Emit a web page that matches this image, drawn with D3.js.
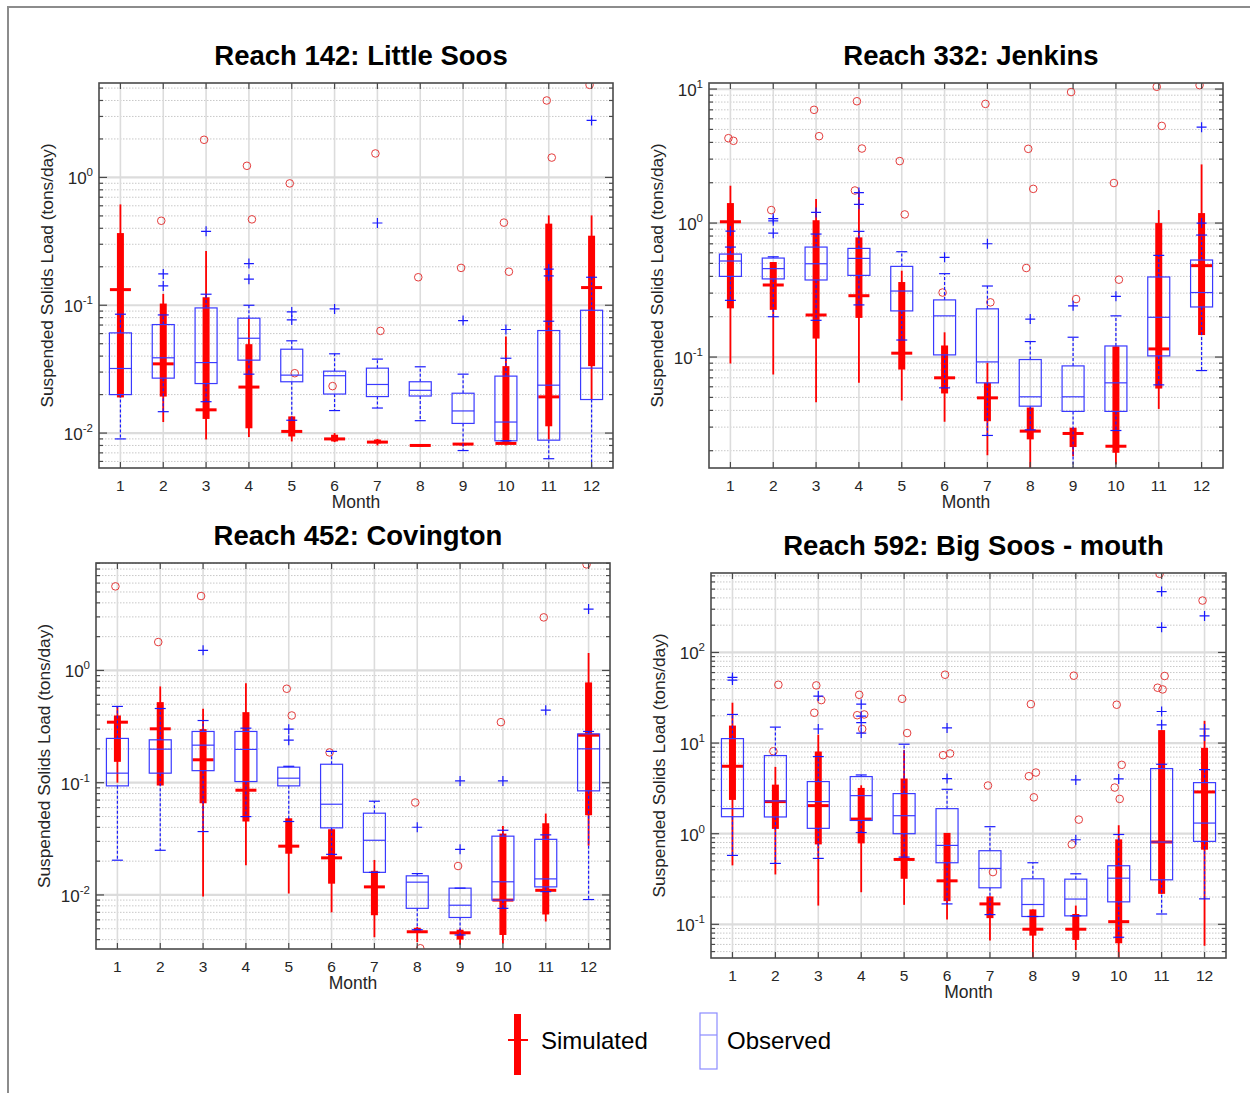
<!DOCTYPE html>
<html>
<head>
<meta charset="utf-8">
<script src="https://cdn.jsdelivr.net/npm/d3@7"></script>
<style>
  body { margin: 0; background: #fff; }
  svg { display: block; }
  text { font-family: "Liberation Sans", Arial, sans-serif; fill: #262626; }
</style>
</head>
<body>
<script>
const months = [1, 2, 3, 4, 5, 6, 7, 8, 9, 10, 11, 12];

// rows: [lower whisker, q1, median, q3, upper whisker], one per month
const obs142 = [
  [0.0090, 0.0200, 0.0320, 0.0608, 0.0851], [0.0147, 0.0269, 0.0388, 0.0706, 0.0840],
  [0.0176, 0.0244, 0.0356, 0.0953, 0.122], [0.0289, 0.0372, 0.0552, 0.0792, 0.100],
  [0.0126, 0.0252, 0.0284, 0.0453, 0.0527], [0.0150, 0.0202, 0.0281, 0.0305, 0.0417],
  [0.0157, 0.0193, 0.0240, 0.0322, 0.0379], [0.0125, 0.0195, 0.0216, 0.0252, 0.033],
  [0.0073, 0.0119, 0.0149, 0.0205, 0.0289], [0.0087, 0.0087, 0.0122, 0.0279, 0.0385],
  [0.0063, 0.0088, 0.0237, 0.0634, 0.075], [0.004, 0.0183, 0.0322, 0.0914, 0.1656]
];
const obsOut142 = [[], [0.1416, 0.1758], [0.379], [0.160, 0.212], [0.0768, 0.0887], [0.0936],
  [0.440], [], [0.0759], [0.0646], [0.1695, 0.192], [2.79]];
const sim142 = [
  [0.019, 0.0190, 0.1325, 0.367, 0.615], [0.0122, 0.0193, 0.0348, 0.1031, 0.1227],
  [0.0089, 0.0129, 0.0152, 0.1155, 0.266], [0.0093, 0.0109, 0.0229, 0.0496, 0.08],
  [0.0086, 0.0094, 0.0103, 0.0135, 0.0135], [0.0085, 0.0086, 0.0090, 0.0097, 0.0100],
  [0.0080, 0.0083, 0.0085, 0.0089, 0.0090], [0.0079, 0.0079, 0.0080, 0.0081, 0.0081],
  [0.0079, 0.0080, 0.0082, 0.0083, 0.0084], [0.0080, 0.0083, 0.0083, 0.0334, 0.0569],
  [0.0089, 0.0113, 0.0192, 0.435, 0.505], [0.0182, 0.0334, 0.1375, 0.350, 0.505]
];
const simOut142 = [[], [0.458], [1.97], [1.233, 0.470], [0.898, 0.0294], [0.0233],
  [1.54, 0.063], [0.1656], [0.196], [0.443, 0.183], [4.0, 1.43], [5.3]];

const obs332 = [
  [0.265, 0.400, 0.521, 0.587, 0.662], [0.200, 0.383, 0.457, 0.548, 0.560],
  [0.188, 0.376, 0.497, 0.662, 0.828], [0.245, 0.407, 0.545, 0.647, 0.867],
  [0.134, 0.221, 0.311, 0.475, 0.611], [0.0589, 0.1038, 0.203, 0.267, 0.419],
  [0.026, 0.0642, 0.0920, 0.229, 0.339], [0.0286, 0.0430, 0.0505, 0.0958, 0.1305],
  [0.0140, 0.0393, 0.0505, 0.0859, 0.1406], [0.0283, 0.0393, 0.0642, 0.121, 0.203],
  [0.0620, 0.102, 0.198, 0.396, 0.574], [0.0793, 0.2365, 0.303, 0.530, 0.814]
];
const obsOut332 = [[0.872], [0.84, 1.04, 1.08], [1.20], [1.38, 1.69], [], [0.555],
  [0.701], [0.192], [0.241], [0.284], [], [1.0, 5.2]];
const sim332 = [
  [0.0895, 0.231, 1.023, 1.41, 1.90], [0.0741, 0.225, 0.345, 0.512, 0.512],
  [0.046, 0.1374, 0.206, 1.05, 1.51], [0.0642, 0.196, 0.287, 0.782, 1.75],
  [0.0474, 0.0807, 0.1069, 0.363, 0.441], [0.0329, 0.0535, 0.070, 0.122, 0.153],
  [0.0185, 0.0332, 0.0496, 0.0642, 0.0905], [0.0140, 0.0243, 0.028, 0.042, 0.042],
  [0.0182, 0.0213, 0.0269, 0.0297, 0.0297], [0.0158, 0.0193, 0.0216, 0.120, 0.120],
  [0.041, 0.0582, 0.115, 1.0, 1.25], [0.146, 0.146, 0.481, 1.187, 2.74]
];
const simOut332 = [[4.3, 4.11], [1.25], [7.0, 4.45], [8.11, 3.6, 1.75], [2.90, 1.16], [0.303],
  [7.75, 0.256], [3.58, 1.80, 0.462], [9.5, 0.271], [1.99, 0.378], [10.4, 5.31], [10.7]];

const obs452 = [
  [0.0204, 0.0937, 0.1216, 0.248, 0.478], [0.025, 0.1216, 0.199, 0.241, 0.458],
  [0.0367, 0.128, 0.216, 0.286, 0.358], [0.0499, 0.1024, 0.198, 0.286, 0.306],
  [0.0451, 0.0937, 0.1097, 0.1375, 0.14], [0.023, 0.0396, 0.0643, 0.146, 0.190],
  [0.0159, 0.0159, 0.0307, 0.0535, 0.0684], [0.0049, 0.0076, 0.0130, 0.0148, 0.0155],
  [0.0044, 0.0063, 0.0081, 0.0115, 0.0115], [0.0076, 0.0090, 0.0131, 0.0334, 0.0377],
  [0.0107, 0.0118, 0.0139, 0.0313, 0.0343], [0.0091, 0.0846, 0.2003, 0.272, 0.286]
];
const obsOut452 = [[], [], [1.51], [], [0.239, 0.300], [], [], [0.0401], [0.1038, 0.0255],
  [0.1038], [0.443], [3.52]];
const sim452 = [
  [0.1, 0.1534, 0.346, 0.397, 0.478], [0.0944, 0.0944, 0.302, 0.522, 0.72],
  [0.0097, 0.0656, 0.160, 0.300, 0.455], [0.0184, 0.0451, 0.0857, 0.425, 0.770],
  [0.0103, 0.0233, 0.0272, 0.0482, 0.0482], [0.0070, 0.0126, 0.0214, 0.0385, 0.0385],
  [0.0042, 0.0066, 0.0118, 0.0164, 0.0205], [0.0038, 0.0046, 0.0047, 0.0051, 0.0052],
  [0.0036, 0.0040, 0.0046, 0.0049, 0.0050], [0.0037, 0.0044, 0.0090, 0.0352, 0.0412],
  [0.0058, 0.0067, 0.0110, 0.0435, 0.0531], [0.0275, 0.0513, 0.265, 0.782, 1.43]
];
const simOut452 = [[5.61], [1.79], [4.60], [], [0.687, 0.397], [0.186], [], [0.0666, 0.00335],
  [0.0181], [0.346], [2.97], [8.81]];

const obs592 = [
  [0.576, 1.54, 1.89, 11.2, 20.7], [0.47, 1.53, 2.3, 7.28, 15.0],
  [0.534, 1.146, 2.26, 3.76, 7.1], [1.03, 1.40, 2.63, 4.27, 4.45],
  [0.552, 1.0, 1.58, 2.77, 9.72], [0.168, 0.478, 0.743, 1.89, 3.09],
  [0.128, 0.253, 0.414, 0.649, 1.195], [0.122, 0.122, 0.1655, 0.318, 0.478],
  [0.124, 0.124, 0.19, 0.315, 0.361], [0.072, 0.177, 0.323, 0.443, 0.98],
  [0.130, 0.31, 0.809, 5.23, 5.84], [0.191, 0.823, 1.31, 3.66, 5.1]
];
const obsOut592 = [[49.6, 53], [], [14.3, 33], [12.9, 16.8, 19.8, 26.9], [], [4.06, 14.7],
  [], [], [0.858, 3.92], [4.02], [15.9, 22.3, 189.6, 470], [12.0, 14.3, 253]];
const sim592 = [
  [0.447, 2.36, 5.55, 15.6, 27.9], [0.355, 1.13, 2.26, 3.48, 5.46],
  [0.161, 0.762, 2.04, 8.07, 12.4], [0.226, 0.782, 1.45, 3.2, 3.42],
  [0.164, 0.318, 0.52, 4.06, 8.35], [0.113, 0.18, 0.302, 1.02, 1.02],
  [0.0662, 0.117, 0.168, 0.203, 0.203], [0.04, 0.075, 0.0883, 0.146, 0.146],
  [0.0521, 0.0673, 0.0883, 0.130, 0.161], [0.04, 0.0618, 0.107, 0.866, 1.24],
  [0.217, 0.217, 0.81, 13.9, 13.9], [0.058, 0.666, 2.89, 8.86, 17.6]
];
const simOut592 = [[], [8.13, 44], [43.3, 29.8, 21.6], [34.1, 20.7, 20.3, 14.3], [30.8, 12.9],
  [56.8, 7.67, 7.35], [3.4, 0.377], [26.9, 4.73, 4.31, 2.52], [55.4, 1.43, 0.762],
  [26.5, 5.75, 3.23, 2.42], [738, 55, 40.8, 39.1], [374]];

const panels = [
  { title: "Reach 142: Little Soos", obs: obs142, obsOut: obsOut142, sim: sim142, simOut: simOut142,
    x: 99, y: 83, w: 514, h: 385, dom: [0.00533, 5.48] },
  { title: "Reach 332: Jenkins", obs: obs332, obsOut: obsOut332, sim: sim332, simOut: simOut332,
    x: 709, y: 83, w: 514, h: 385, dom: [0.01486, 11.1] },
  { title: "Reach 452: Covington", obs: obs452, obsOut: obsOut452, sim: sim452, simOut: simOut452,
    x: 96, y: 563, w: 514, h: 386, dom: [0.0033, 9.06] },
  { title: "Reach 592: Big Soos - mouth", obs: obs592, obsOut: obsOut592, sim: sim592, simOut: simOut592,
    x: 711, y: 573, w: 515, h: 385, dom: [0.0425, 753] }
];

const RED = "#ff0000", BLUE = "#1a1aff";

const svg = d3.select("body").append("svg")
  .attr("width", 1250).attr("height", 1093);

// figure frame
svg.append("path").attr("d", "M8,1093V7H1250")
  .attr("fill", "none").attr("stroke", "#8c8c8c").attr("stroke-width", 2);

panels.forEach(function(p, pi) {
  const g = svg.append("g").attr("transform", "translate(" + p.x + "," + p.y + ")");
  const x = d3.scaleLinear().domain([0.5, 12.5]).range([0, p.w]);
  const y = d3.scaleLog().domain(p.dom).range([p.h, 0]);

  const lo = Math.floor(Math.log10(p.dom[0])), hi = Math.ceil(Math.log10(p.dom[1]));
  const majors = [], minors = [];
  for (let e = lo; e <= hi; e++) {
    for (let m = 1; m <= 9; m++) {
      const v = m * Math.pow(10, e);
      if (v < p.dom[0] || v > p.dom[1]) continue;
      if (m === 1) majors.push(e); else minors.push(v);
    }
  }

  const clipId = "clip" + pi;
  g.append("clipPath").attr("id", clipId).append("rect")
    .attr("width", p.w).attr("height", p.h);

  // grid
  g.append("g").selectAll("line").data(minors).join("line")
    .attr("x1", 0).attr("x2", p.w).attr("y1", d => y(d)).attr("y2", d => y(d))
    .attr("stroke", "#c8c8c8").attr("stroke-width", 1).attr("stroke-dasharray", "1.5,1.5");
  g.append("g").selectAll("line").data(majors).join("line")
    .attr("x1", 0).attr("x2", p.w).attr("y1", d => y(Math.pow(10, d))).attr("y2", d => y(Math.pow(10, d)))
    .attr("stroke", "#dcdcdc").attr("stroke-width", 2.2);
  g.append("g").selectAll("line").data(months).join("line")
    .attr("x1", d => x(d)).attr("x2", d => x(d)).attr("y1", 0).attr("y2", p.h)
    .attr("stroke", "#dcdcdc").attr("stroke-width", 1.6);

  const plot = g.append("g").attr("clip-path", "url(#" + clipId + ")");

  // simulated: thin whisker, thick IQR bar, median bar, outlier circles
  const sg = plot.append("g").selectAll("g").data(p.sim).join("g")
    .attr("transform", (d, i) => "translate(" + x(months[i]) + ",0)");
  sg.append("line").attr("y1", d => y(d[0])).attr("y2", d => y(d[4]))
    .attr("stroke", RED).attr("stroke-width", 1.8);
  sg.append("rect").attr("x", -3.5).attr("width", 7)
    .attr("y", d => y(d[3])).attr("height", d => Math.max(2, y(d[1]) - y(d[3])))
    .attr("fill", RED);
  sg.append("line").attr("x1", -10.5).attr("x2", 10.5)
    .attr("y1", d => y(d[2])).attr("y2", d => y(d[2]))
    .attr("stroke", RED).attr("stroke-width", 3);
  plot.append("g").selectAll("g").data(p.simOut).join("g")
    .attr("transform", (d, i) => "translate(" + x(months[i]) + ",0)")
    .selectAll("circle").data(d => d).join("circle")
    .attr("cx", (d, j) => [-2, 3, -4, 1][j % 4])
    .attr("cy", d => y(d)).attr("r", 3.8)
    .attr("fill", "none").attr("stroke", "#e43c3c").attr("stroke-width", 1);

  // observed: box, median, dashed whiskers, caps, '+' outliers
  const og = plot.append("g").selectAll("g").data(p.obs).join("g")
    .attr("transform", (d, i) => "translate(" + x(months[i]) + ",0)");
  og.append("line").attr("y1", d => y(d[3])).attr("y2", d => y(d[4]))
    .attr("stroke", BLUE).attr("stroke-width", 1.2).attr("stroke-dasharray", "3,2");
  og.append("line").attr("y1", d => y(d[1])).attr("y2", d => y(d[0]))
    .attr("stroke", BLUE).attr("stroke-width", 1.2).attr("stroke-dasharray", "3,2");
  og.append("rect").attr("x", -11).attr("width", 22)
    .attr("y", d => y(d[3])).attr("height", d => y(d[1]) - y(d[3]))
    .attr("fill", "none").attr("stroke", "#3a3aff").attr("stroke-width", 1.2);
  og.append("line").attr("x1", -11).attr("x2", 11)
    .attr("y1", d => y(d[2])).attr("y2", d => y(d[2]))
    .attr("stroke", "#3a3aff").attr("stroke-width", 1.2);
  [0, 4].forEach(function(k) {
    og.append("line").attr("x1", -5.5).attr("x2", 5.5)
      .attr("y1", d => y(d[k])).attr("y2", d => y(d[k]))
      .attr("stroke", BLUE).attr("stroke-width", 1.2);
  });
  plot.append("g").selectAll("g").data(p.obsOut).join("g")
    .attr("transform", (d, i) => "translate(" + x(months[i]) + ",0)")
    .selectAll("path").data(d => d).join("path")
    .attr("d", d => "M-5," + y(d) + "h10M0," + (y(d) - 5) + "v10")
    .attr("stroke", BLUE).attr("stroke-width", 1.2).attr("fill", "none");

  // axes box and ticks
  g.append("rect").attr("width", p.w).attr("height", p.h)
    .attr("fill", "none").attr("stroke", "#4a4a4a").attr("stroke-width", 1.6);
  const tk = g.append("g").attr("stroke", "#4a4a4a").attr("stroke-width", 1.2);
  months.forEach(function(m) {
    tk.append("line").attr("x1", x(m)).attr("x2", x(m)).attr("y1", p.h).attr("y2", p.h - 6);
    tk.append("line").attr("x1", x(m)).attr("x2", x(m)).attr("y1", 0).attr("y2", 6);
  });
  majors.forEach(function(e) {
    const yy = y(Math.pow(10, e));
    tk.append("line").attr("x1", 0).attr("x2", 8).attr("y1", yy).attr("y2", yy);
    tk.append("line").attr("x1", p.w).attr("x2", p.w - 8).attr("y1", yy).attr("y2", yy);
  });
  minors.forEach(function(v) {
    tk.append("line").attr("x1", 0).attr("x2", 4).attr("y1", y(v)).attr("y2", y(v));
    tk.append("line").attr("x1", p.w).attr("x2", p.w - 4).attr("y1", y(v)).attr("y2", y(v));
  });

  // tick labels
  g.append("g").selectAll("text").data(months).join("text")
    .attr("x", d => x(d)).attr("y", p.h + 23).attr("text-anchor", "middle")
    .attr("font-size", 15.5).text(d => d);
  const yl = g.append("g").selectAll("text").data(majors).join("text")
    .attr("x", -6).attr("y", d => y(Math.pow(10, d)) + 7).attr("text-anchor", "end")
    .attr("font-size", 17);
  yl.append("tspan").text("10");
  yl.append("tspan").attr("dy", -8).attr("font-size", 11.5).text(d => d);

  // axis titles
  g.append("text").attr("x", p.w / 2).attr("y", p.h + 40).attr("text-anchor", "middle")
    .attr("font-size", 17.5).text("Month");
  g.append("text").attr("transform", "translate(-46," + (p.h / 2) + ") rotate(-90)")
    .attr("text-anchor", "middle").attr("font-size", 17.3)
    .text("Suspended Solids Load (tons/day)");

  // title
  g.append("text").attr("x", p.w / 2 + 5).attr("y", -18).attr("text-anchor", "middle")
    .attr("font-family", "Lato, 'Open Sans', sans-serif").attr("font-weight", "bold")
    .attr("font-size", 27.5).style("fill", "#000").text(p.title);
});

// legend
const lg = svg.append("g");
lg.append("rect").attr("x", 514).attr("y", 1014).attr("width", 7).attr("height", 61).attr("fill", RED);
lg.append("line").attr("x1", 508).attr("x2", 528).attr("y1", 1040).attr("y2", 1040)
  .attr("stroke", RED).attr("stroke-width", 2);
lg.append("text").attr("x", 541).attr("y", 1049).attr("font-size", 24).style("fill", "#000").text("Simulated");
lg.append("rect").attr("x", 700).attr("y", 1013).attr("width", 17).attr("height", 56)
  .attr("fill", "none").attr("stroke", "#8c8cff").attr("stroke-width", 1.2);
lg.append("line").attr("x1", 700).attr("x2", 717).attr("y1", 1035).attr("y2", 1035)
  .attr("stroke", "#8c8cff").attr("stroke-width", 1.2);
lg.append("text").attr("x", 727).attr("y", 1049).attr("font-size", 24).style("fill", "#000").text("Observed");
</script>
</body>
</html>
